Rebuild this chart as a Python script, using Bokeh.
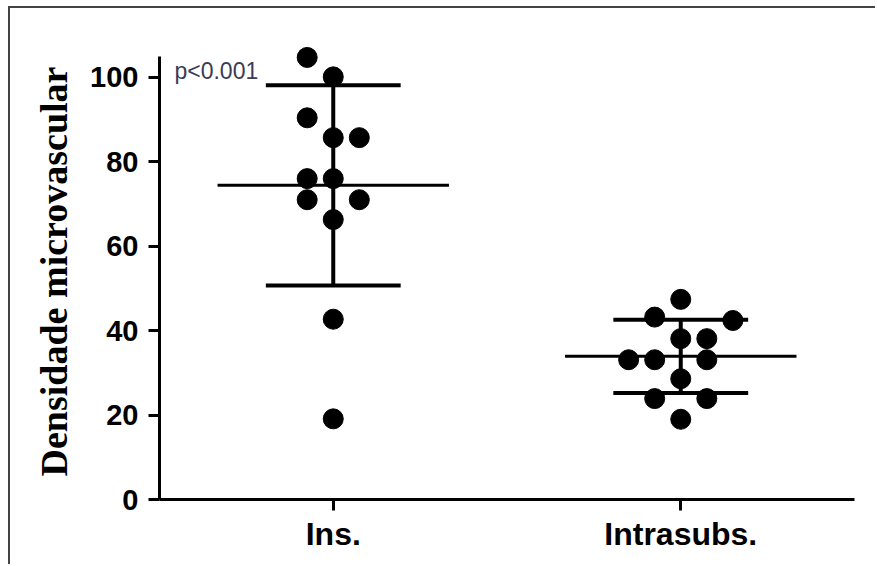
from bokeh.plotting import figure
from bokeh.models import FixedTicker, Label, ColumnDataSource
from bokeh.embed import file_html
from bokeh.resources import INLINE

# ---- data ----
categories = ["Ins.", "Intrasubs."]
ins_values = [104.7, 100.1, 90.4, 85.7, 85.7, 76.0, 76.0, 71.0, 71.0, 66.3, 42.7, 19.1]
ins_column = [-1, 0, -1, 0, 1, -1, 0, -1, 1, 0, 0, 0]
intra_values = [47.4, 43.2, 42.4, 38.1, 38.1, 33.1, 33.1, 33.1, 28.6, 23.9, 23.9, 19.0]
intra_column = [0, -1, 2, 0, 1, -2, -1, 1, 0, -1, 1, 0]
means = [74.4, 33.9]
sds = [23.7, 8.7]
y_ticks = [0, 20, 40, 60, 80, 100]
y_axis_end = 105
p_text = "p<0.001"
y_label = "Densidade microvascular"

# ---- layout constants ----
DOT_STEP = 0.075
MEAN_HALF = 0.333
SD_HALF = 0.194

p = figure(width=875, height=564, x_range=(0.5, 2.5), y_range=(0, 108),
           output_backend="svg", toolbar_location=None,
           min_border_left=159, min_border_right=21, min_border_top=43, min_border_bottom=65,
           styles={"box-shadow": "inset 8px 6px 0px 0px #ffffff, inset 10px 8px 0px 0px #444444"})
p.outline_line_color = None
p.xgrid.visible = False
p.ygrid.visible = False
p.background_fill_color = None
p.border_fill_color = None

xs_pos = [i + 1 for i in range(len(categories))]

# error bars
p.segment(x0=[x - MEAN_HALF for x in xs_pos], x1=[x + MEAN_HALF for x in xs_pos],
          y0=means, y1=means, line_color="black", line_width=3)
upper = [m + s for m, s in zip(means, sds)]
lower = [m - s for m, s in zip(means, sds)]
p.segment(x0=[x - SD_HALF for x in xs_pos] * 2, x1=[x + SD_HALF for x in xs_pos] * 2,
          y0=upper + lower, y1=upper + lower, line_color="black", line_width=4)
p.segment(x0=xs_pos, x1=xs_pos, y0=lower, y1=upper, line_color="black", line_width=4)

# points
px = [xs_pos[0] + c * DOT_STEP for c in ins_column] + [xs_pos[1] + c * DOT_STEP for c in intra_column]
py = ins_values + intra_values
src = ColumnDataSource(dict(x=px, y=py))
p.scatter("x", "y", source=src, size=20, fill_color="black", line_color="black")

# axes
for ax in (p.xaxis[0], p.yaxis[0]):
    ax.axis_line_width = 3
    ax.axis_line_color = "black"
    ax.major_tick_line_width = 3
    ax.major_tick_line_color = "black"
    ax.major_tick_out = 11
    ax.major_tick_in = 0
    ax.minor_tick_line_color = None
    ax.major_label_text_font = "Liberation Sans"
    ax.major_label_text_font_style = "bold"
    ax.major_label_text_color = "black"

p.yaxis.ticker = FixedTicker(ticks=y_ticks)
p.yaxis.bounds = (0, y_axis_end)
p.yaxis.major_label_text_font_size = "29px"
p.yaxis.major_label_standoff = 10
p.yaxis.axis_label = y_label
p.yaxis.axis_label_text_font = "Liberation Serif"
p.yaxis.axis_label_text_font_style = "bold"
p.yaxis.axis_label_text_font_size = "38px"
p.yaxis.axis_label_text_color = "black"
p.yaxis.axis_label_standoff = 12

p.xaxis.ticker = FixedTicker(ticks=xs_pos)
p.xaxis.major_label_overrides = {x: c for x, c in zip(xs_pos, categories)}
p.xaxis.major_label_text_font_size = "32px"
p.xaxis.major_label_standoff = 5

p.add_layout(Label(x=0.543, y=101.6, text=p_text, text_font="Liberation Sans",
                   text_font_size="23px", text_color="#3b3b55",
                   text_baseline="alphabetic", text_align="left"))

open("out.html", "w").write(file_html(p, INLINE))
